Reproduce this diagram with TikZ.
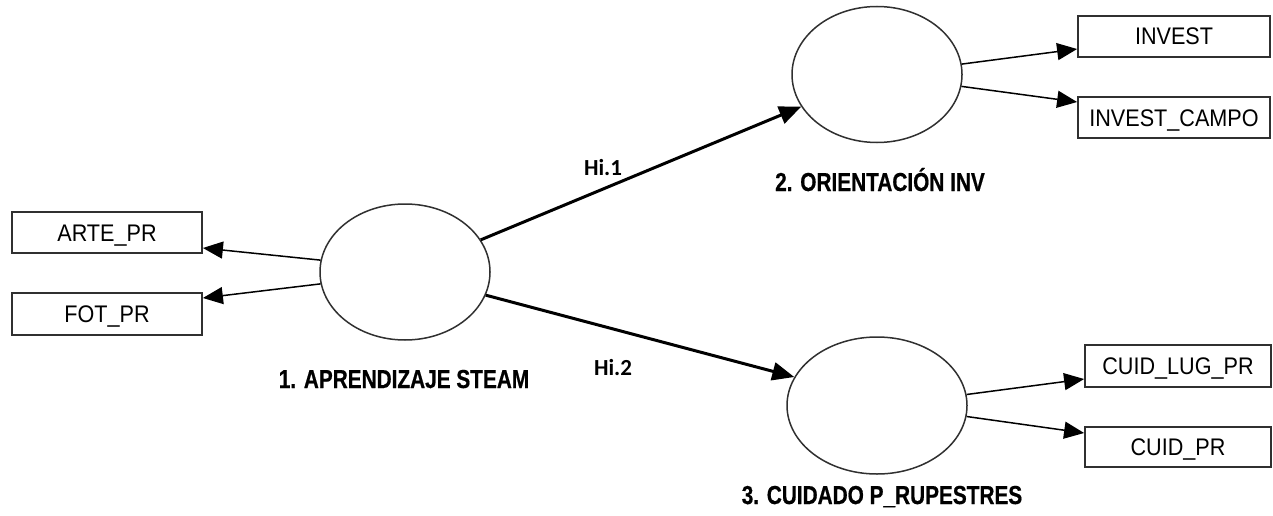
\documentclass[tikz,border=0pt]{standalone}
\usepackage{fontspec}
\setmainfont{Liberation Sans}
\newfontfamily\boxfont{Liberation Sans}[FakeStretch=0.9]
\newfontfamily\lblfont{Liberation Sans}[FakeStretch=0.8, BoldFeatures={FakeBold=0.6}]
\newfontfamily\hifont{Carlito}
\usetikzlibrary{shapes.geometric,arrows.meta}
\definecolor{edge}{HTML}{303030}
\tikzset{
  lv/.style={ellipse, draw=edge, line width=1.5pt, minimum width=170pt, minimum height=136pt, inner sep=0pt},
  ind/.style={rectangle, draw=edge, line width=1.8pt, minimum width=190pt, minimum height=41pt, inner sep=0pt,
    font=\boxfont\fontsize{24}{24}\selectfont, text height=17pt, text depth=0pt},
  lbl/.style={anchor=base, inner sep=0pt, font=\lblfont\bfseries\fontsize{26}{26}\selectfont},
  hil/.style={anchor=base, inner sep=0pt, font=\hifont\bfseries\fontsize{23}{23}\selectfont},
  thin/.style={draw=black, line width=1.5pt, -{Triangle[length=20pt,width=17pt]}},
  thick/.style={draw=black, line width=3pt, -{Triangle[length=22pt,width=18pt]}}
}
\begin{document}
\begin{tikzpicture}[x=1pt,y=-1pt]
\useasboundingbox (0,0) rectangle (1273,516);
% latent variables
\node[lv] (e1) at (405,272) {};
\node[lv] (e2) at (877,74.5) {};
\node[lv, minimum width=180pt, minimum height=137pt] (e3) at (877,405.5) {};
% indicators
\node[ind] (arte) at (107,232.5) {ARTE\_PR};
\node[ind, minimum height=42pt] (fot) at (107,314) {FOT\_PR};
\node[ind, minimum width=192pt] (invest) at (1174,36.5) {INVEST};
\node[ind, minimum width=192pt] (campo) at (1174,117.5) {INVEST\_CAMPO};
\node[ind, minimum width=186pt, minimum height=42pt] (cuidlug) at (1178,366) {CUID\_LUG\_PR};
\node[ind, minimum width=186pt, minimum height=40pt] (cuidpr) at (1178,447) {CUID\_PR};
% labels
\node[lbl] (l1) at (404,388) {1. APRENDIZAJE STEAM};
\node[lbl] (l2) at (880,191) {2. ORIENTACIÓN INV};
\node[lbl] (l3) at (882,504) {3. CUIDADO P\_RUPESTRES};
\node[hil] (h1) at (603,175) {Hi.1};
\node[hil] (h2) at (613,375) {Hi.2};
% connectors
\draw[thin] (e1.172.6) -- ([yshift=-15.5pt]arte.east);
\draw[thin] (e1.188) -- ([yshift=16pt]fot.east);
\draw[thin] (e2.7.9) -- ([yshift=-12.5pt]invest.west);
\draw[thin] (e2.-8.6) -- ([yshift=15.5pt]campo.west);
\draw[thin] (e3.7.9) -- ([yshift=-13pt]cuidlug.west);
\draw[thin] (e3.-7.3) -- ([yshift=14pt]cuidpr.west);
\draw[thick] (e1.23.1) -- (e2.203.7);
\draw[thick] (e1.-16.4) -- (e3.161.5);
\end{tikzpicture}
\end{document}
